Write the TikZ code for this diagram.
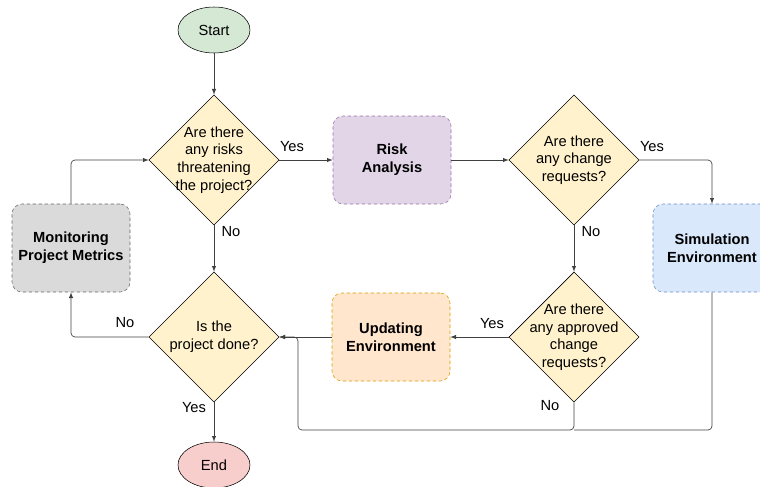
\documentclass[tikz,border=0pt]{standalone}
\usepackage{fontspec}
\setmainfont{Liberation Sans}
\usetikzlibrary{shapes,arrows,positioning,calc}
\definecolor{termgreen}{HTML}{D5E8D4}
\definecolor{termred}{HTML}{F8CECC}
\definecolor{decfill}{HTML}{FFF2CC}
\definecolor{riskfill}{HTML}{E1D5E7}
\definecolor{riskline}{HTML}{9673A6}
\definecolor{simfill}{HTML}{DAE8FC}
\definecolor{simline}{HTML}{6C8EBF}
\definecolor{updfill}{HTML}{FFE6CC}
\definecolor{updline}{HTML}{D79B00}
\definecolor{monfill}{HTML}{DADADA}
\definecolor{monline}{HTML}{666666}

\begin{document}
\begin{tikzpicture}[
    x=0.75pt, y=-0.75pt,
    font=\fontsize{11}{13.2}\selectfont,
    term/.style={draw=black, ellipse, minimum width=54pt, minimum height=34.5pt},
    decision/.style={draw=black, diamond, fill=decfill, minimum width=97.5pt, minimum height=97.5pt, inner sep=0pt},
    dtext/.style={align=center, inner sep=0pt},
    process/.style={rectangle, rounded corners=7.5pt, dash pattern=on 2.5pt off 2pt, minimum width=88.5pt, minimum height=66pt, align=center, font=\fontsize{11}{13.5}\selectfont\bfseries},
    flow/.style={draw=black!75, line width=0.5pt, ->, >=latex, rounded corners=3pt},
    ans/.style={inner sep=1pt}, ]
    \useasboundingbox (0,0) rectangle (760,486);

    % terminals
    \node[term, fill=termgreen] (start) at (214,30) {Start};
    \node[term, fill=termred] (end) at (214,465) {End};

    % decisions
    \node[decision] (d1) at (214,160) {};
    \node[dtext] (d1-t) at (d1) {Are there\\any risks\\threatening\\the project?};
    \node[decision] (d2) at (574,160) {};
    \node[dtext] (d2-t) at (d2) {Are there\\any change\\requests?};
    \node[decision] (d3) at (214,337) {};
    \node[dtext] (d3-t) at (d3) {Is the\\project done?};
    \node[decision] (d4) at (574,337) {};
    \node[dtext] (d4-t) at (d4) {Are there\\any approved\\change\\requests?};

    % processes
    \node[process, fill=riskfill, draw=riskline] (risk) at (392,160) {Risk\\Analysis};
    \node[process, fill=simfill, draw=simline] (sim) at (712,248) {Simulation\\Environment};
    \node[process, fill=updfill, draw=updline] (upd) at (391,337) {Updating\\Environment};
    \node[process, fill=monfill, draw=monline] (mon) at (71,248) {Monitoring\\Project Metrics};

    \coordinate (loop) at (298,430);

    % connectors
    \draw[flow] (start) -- (d1);
    \draw[flow] (d1.east) -- (risk.west);
    \draw[flow] (risk.east) -- (d2.west);
    \draw[flow] (d2.east) -| (sim.north);
    \draw[flow] (d2.south) -- (d4.north);
    \draw[flow] (d4.west) -- (upd.east);
    \draw[flow] (upd.west) -- (d3.east);
    \draw[flow] (d1.south) -- (d3.north);
    \draw[flow] (d3.south) -- (end.north);
    \draw[flow] (d3.west) -| (mon.south);
    \draw[flow] (mon.north) |- (d1.west);
    \draw[flow] (d4.south) |- (loop) |- (d3.east);
    \draw[flow, -] (sim.south) |- (d4.south |- loop);

    % answers
    \node[ans] (a1) at (292,147) {Yes};
    \node[ans] (a2) at (231,232) {No};
    \node[ans] (a3) at (652,147) {Yes};
    \node[ans] (a4) at (591,232) {No};
    \node[ans] (a5) at (492,324) {Yes};
    \node[ans] (a6) at (550,406) {No};
    \node[ans] (a7) at (125,323) {No};
    \node[ans] (a8) at (194,408) {Yes};

\end{tikzpicture}
\end{document}
